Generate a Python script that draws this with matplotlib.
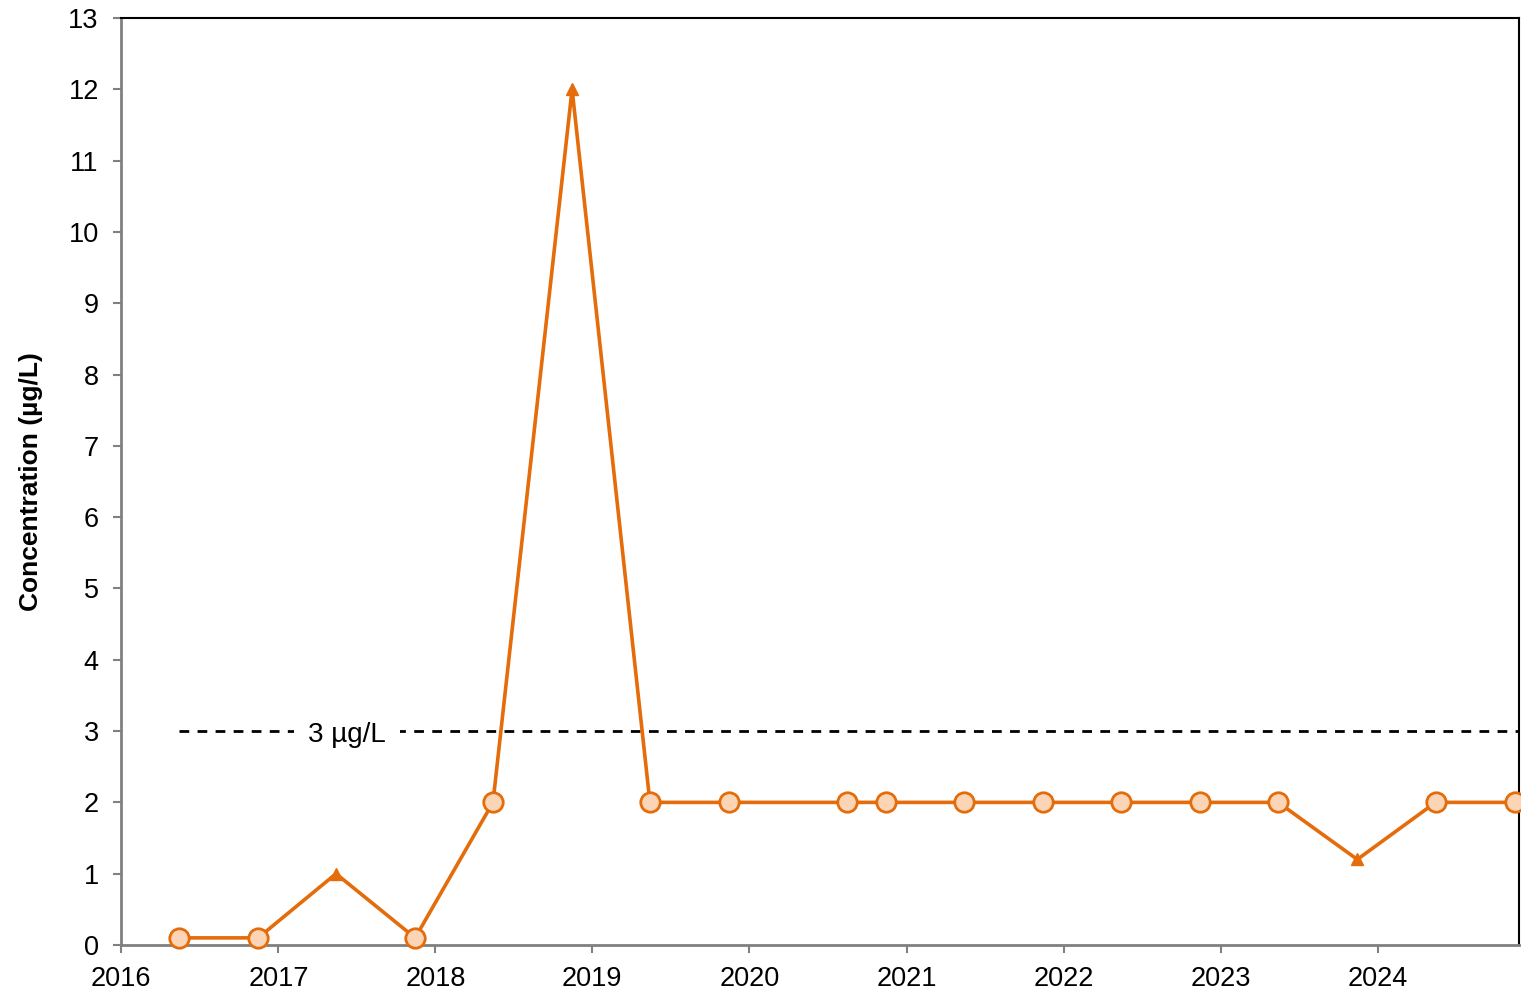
import matplotlib
matplotlib.use("Agg")
import matplotlib.pyplot as plt
import matplotlib.dates as mdates
import numpy as np
import datetime as dt

plt.rcParams['font.family'] = ['Liberation Sans', 'DejaVu Sans']

dates = ["2016-05-15", "2016-11-15", "2017-05-15", "2017-11-15", "2018-05-15",
         "2018-11-15", "2019-05-15", "2019-11-15", "2020-08-15", "2020-11-15",
         "2021-05-15", "2021-11-15", "2022-05-15", "2022-11-15", "2023-05-15",
         "2023-11-15", "2024-05-15", "2024-11-15"]
values = [0.1, 0.1, 1, 0.1, 2, 12, 2, 2, 2, 2, 2, 2, 2, 2, 2, 1.2, 2, 2]
marker_kind = ["o", "o", "^", "o", "o", "^", "o", "o", "o", "o",
               "o", "o", "o", "o", "o", "^", "o", "o"]
limit_value = 3
limit_label = "3 µg/L"
limit_start = "2016-05-15"
ylabel = "Concentration (µg/L)"

x = [dt.datetime.strptime(d, "%Y-%m-%d") for d in dates]
xn = mdates.date2num(x)
vals = np.array(values)
kinds = np.array(marker_kind)

line_c = "#E46C0A"
face_c = "#FBD5B5"

fig = plt.figure(figsize=(15.21, 9.97), dpi=100)
ax = fig.add_axes([121/1521, 52/997, (1519-121)/1521, (945-18)/997])

xmin = mdates.date2num(dt.datetime(2016, 1, 1))
xmax = mdates.date2num(dt.datetime(2024, 11, 25))

# limit line
ax.plot([mdates.date2num(dt.datetime.strptime(limit_start, "%Y-%m-%d")), xmax],
        [limit_value, limit_value], color="black", lw=2, ls=(0, (3.5, 3)), zorder=2)
ax.text(mdates.date2num(dt.datetime(2017, 6, 10)), limit_value - 0.05, limit_label,
        fontsize=20, ha="center", va="center", zorder=3,
        bbox=dict(facecolor="white", edgecolor="none", pad=10))

ax.plot(xn, vals, color=line_c, lw=2.6, zorder=4, clip_on=False)
mo = kinds == "o"
mt = kinds == "^"
ax.plot(xn[mo], vals[mo], ls="none", marker="o", ms=14, mfc=face_c, mec=line_c,
        mew=2, zorder=5, clip_on=False)
ax.plot(xn[mt], vals[mt], ls="none", marker="^", ms=8, mfc=line_c, mec=line_c,
        zorder=5, clip_on=False)

ax.set_xlim(xmin, xmax)
ax.set_ylim(0, 13)
ax.set_yticks(range(0, 14))
ax.xaxis.set_major_locator(mdates.YearLocator())
ax.xaxis.set_major_formatter(mdates.DateFormatter("%Y"))
for lbl in ax.get_xticklabels():
    lbl.set_horizontalalignment("center")

ax.tick_params(axis="both", labelsize=19.5, colors="#808080", labelcolor="black",
               length=6, width=1.5, direction="out")
ax.tick_params(axis="x", pad=9)
ax.tick_params(axis="y", pad=10)
ax.spines["left"].set_color("#808080")
ax.spines["bottom"].set_color("#808080")
ax.spines["left"].set_linewidth(2)
ax.spines["bottom"].set_linewidth(2)
ax.spines["top"].set_color("black")
ax.spines["right"].set_color("black")
ax.spines["top"].set_linewidth(1.5)
ax.spines["right"].set_linewidth(1.5)

ax.set_ylabel(ylabel, fontsize=19, fontweight="bold", labelpad=18)

fig.savefig("out.png", dpi=100)
